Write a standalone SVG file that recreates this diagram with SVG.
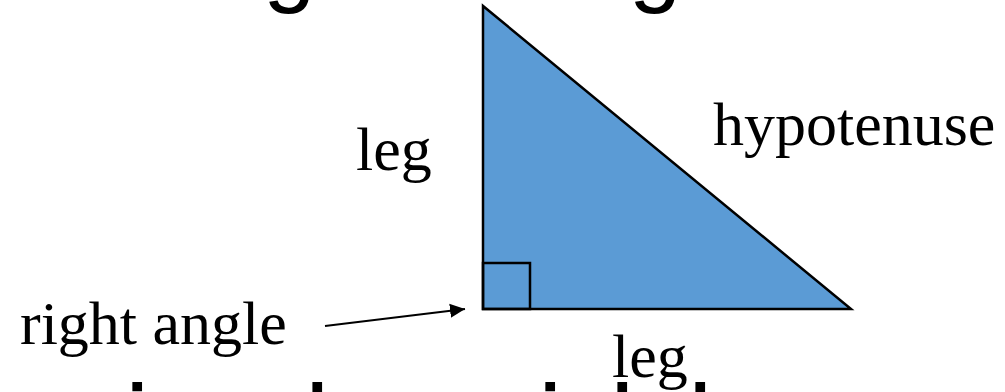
<svg xmlns="http://www.w3.org/2000/svg" width="1005" height="392" viewBox="0 0 1005 392">
<style>
.lbl{font-family:"Liberation Serif","Times New Roman",serif;font-size:62px;fill:#000}
.big{font-family:"Liberation Sans",Arial,sans-serif;fill:#000}
.edge{fill:none;stroke:#000;stroke-width:2}
</style>
<defs>
<marker id="ah" markerUnits="userSpaceOnUse" markerWidth="16" markerHeight="16" viewBox="0 0 16 16" refX="15" refY="8" orient="auto">
<path d="M0,1 L15,8 L0,15 Z" fill="#000"/>
</marker>
</defs>
<rect width="1005" height="392" fill="#fff"/>
<text class="big" x="174.5" y="-6" font-size="94">Right Triangles</text>
<g id="triangle">
<polygon points="483,6 483,309 851,309" fill="#5B9BD5" stroke="#000" stroke-width="2.5" stroke-linejoin="miter"/>
<rect x="483" y="263" width="47" height="46" fill="none" stroke="#000" stroke-width="2.5"/>
</g>
<g id="label-leg-left"><text class="lbl" x="356" y="170">leg</text></g>
<g id="label-hypotenuse"><text class="lbl" x="713" y="145">hypotenuse</text></g>
<g id="label-right-angle"><text class="lbl" x="20" y="344">right angle</text></g>
<g id="label-leg-bottom"><text class="lbl" x="612" y="377">leg</text></g>
<g id="connectors">
<line class="edge" x1="325" y1="326" x2="465" y2="309" marker-end="url(#ah)"/>
</g>
<text class="big" font-size="110" y="461"><tspan x="125">i</tspan><tspan x="305">l</tspan><tspan x="538">i</tspan><tspan x="610">l</tspan><tspan x="688">l</tspan></text>
</svg>
